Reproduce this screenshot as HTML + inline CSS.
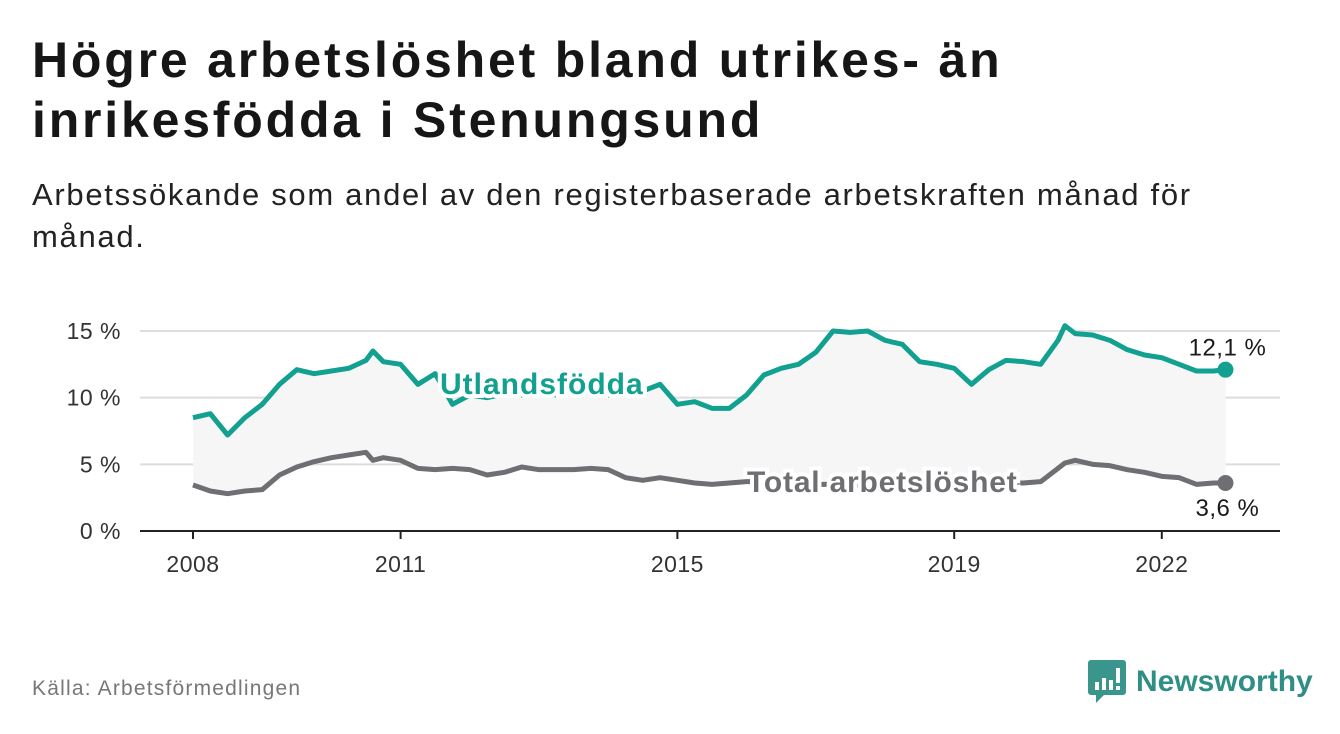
<!DOCTYPE html>
<html><head><meta charset="utf-8">
<style>
body{margin:0;width:1340px;height:734px;background:#fff;font-family:"Liberation Sans",sans-serif;overflow:hidden;position:relative;color:#1a1a1a}
h1{position:absolute;left:32px;top:30px;margin:0;font-size:50px;line-height:60px;letter-spacing:2.8px;font-weight:bold;color:#161616}
.sub{position:absolute;left:32px;top:174px;font-size:31px;line-height:42px;letter-spacing:1.7px;color:#222}
.src{position:absolute;left:32px;top:677px;font-size:21px;letter-spacing:1.2px;color:#777}
.logo{position:absolute;left:1088px;top:660px;display:flex;align-items:center}
.logo span{font-size:30px;font-weight:bold;color:#2f8f87;margin-left:10px}
#chart{position:absolute;left:0;top:0}
</style></head><body>
<h1>Högre arbetslöshet bland utrikes- än<br>inrikesfödda i Stenungsund</h1>
<div class="sub">Arbetssökande som andel av den registerbaserade arbetskraften månad för<br>månad.</div>
<div class="src">Källa: Arbetsförmedlingen</div>
<div class="logo">
<svg width="38" height="44" viewBox="0 0 38 44"><path d="M3 0H35a3 3 0 0 1 3 3V32a3 3 0 0 1-3 3H16L8 43V35H3a3 3 0 0 1-3-3V3a3 3 0 0 1 3-3z" fill="#3a958d"/><rect x="7" y="22" width="4" height="8" fill="#fff"/><rect x="14" y="18" width="4" height="12" fill="#fff"/><rect x="21" y="20" width="4" height="10" fill="#fff"/><rect x="28" y="8" width="4" height="15" fill="#fff"/><rect x="28" y="26" width="4" height="4" fill="#fff"/></svg>
<span>Newsworthy</span></div>
<svg id="chart" width="1340" height="734"></svg>
<script>
const dates=[2008.0,2008.25,2008.5,2008.75,2009.0,2009.25,2009.5,2009.75,2010.0,2010.25,2010.5,2010.6,2010.75,2011.0,2011.25,2011.5,2011.75,2012.0,2012.25,2012.5,2012.75,2013.0,2013.25,2013.5,2013.75,2014.0,2014.25,2014.5,2014.75,2015.0,2015.25,2015.5,2015.75,2016.0,2016.25,2016.5,2016.75,2017.0,2017.25,2017.5,2017.75,2018.0,2018.25,2018.5,2018.75,2019.0,2019.25,2019.5,2019.75,2020.0,2020.25,2020.5,2020.6,2020.75,2021.0,2021.25,2021.5,2021.75,2022.0,2022.25,2022.5,2022.75,2022.92];
const utlandsfodda=[8.5,8.8,7.2,8.5,9.5,11,12.1,11.8,12,12.2,12.8,13.5,12.7,12.5,11,11.8,9.5,10.2,10,10.3,10.2,10.4,10.2,10.5,10.4,10.2,10.4,10.5,11,9.5,9.7,9.2,9.2,10.2,11.7,12.2,12.5,13.4,15,14.9,15,14.3,14,12.7,12.5,12.2,11,12.1,12.8,12.7,12.5,14.3,15.4,14.8,14.7,14.3,13.6,13.2,13,12.5,12,12,12.1];
const total=[3.45,3.0,2.8,3.0,3.1,4.2,4.8,5.2,5.5,5.7,5.9,5.3,5.5,5.3,4.7,4.6,4.7,4.6,4.2,4.4,4.8,4.6,4.6,4.6,4.7,4.6,4.0,3.8,4.0,3.8,3.6,3.5,3.6,3.7,3.7,3.6,3.6,3.5,3.5,3.5,3.4,3.4,3.5,3.5,3.4,3.5,3.5,3.6,3.6,3.6,3.7,4.7,5.1,5.3,5.0,4.9,4.6,4.4,4.1,4.0,3.5,3.6,3.6];
const yTicks=[0,5,10,15];
const xTicks=[2008,2011,2015,2019,2022];
const NS="http://www.w3.org/2000/svg";
const svgEl=document.getElementById('chart');
const X=t=>193+(t-2008)*69.2;
const Y=v=>531-v*13.333;
function mk(tag,attrs){const e=document.createElementNS(NS,tag);for(const k in attrs)e.setAttribute(k,attrs[k]);svgEl.appendChild(e);return e;}
yTicks.forEach(v=>{
 const g=mk('line',{x1:140,x2:1280,y1:Y(v),y2:Y(v),stroke:v===0?'#222':'#ddd','stroke-width':2});
 
 
 const t=mk('text',{x:121,y:Y(v)+8,'text-anchor':'end','font-size':23,'letter-spacing':0.5,fill:'#333','font-family':'Liberation Sans, sans-serif'});
 t.textContent=v+' %';
 
 
});
xTicks.forEach(y=>{
 const l=mk('line',{x1:X(y),x2:X(y),y1:531,y2:539,stroke:'#222','stroke-width':2});
 
 
 const t=mk('text',{x:X(y),y:572,'text-anchor':'middle','font-size':23,'letter-spacing':0.5,fill:'#333','font-family':'Liberation Sans, sans-serif'});
 t.textContent=y;
 
 
});
const upperPts=dates.map((d,i)=>X(d)+','+Y(utlandsfodda[i]));
const lowerPts=dates.map((d,i)=>X(d)+','+Y(total[i])).reverse();
const area=mk('polygon',{points:upperPts.concat(lowerPts).join(' '),fill:'#f6f6f7'});


function drawLine(vals,color,name){
 const p=mk('polyline',{points:dates.map((d,i)=>X(d)+','+Y(vals[i])).join(' '),fill:'none',stroke:color,'stroke-width':5,'stroke-linejoin':'round'});
 
 
 const n=vals.length-1;
 const c=mk('circle',{cx:X(dates[n]),cy:Y(vals[n]),r:8,fill:color});
 
 
}
drawLine(utlandsfodda,'#12a091','utlandsfodda-line');
drawLine(total,'#6f6e73','total-line');
function lab(x,y,txt,color,name,size,bold,anchor,ls){
 const t=mk('text',{x:x,y:y,'font-size':size,'font-weight':bold?'bold':'normal','letter-spacing':ls||0,fill:color,'text-anchor':anchor||'start',stroke:bold?'#fff':'none','stroke-width':bold?8:0,'paint-order':'stroke','font-family':'Liberation Sans, sans-serif'});
 t.textContent=txt;
 
 
}
lab(440,394,'Utlandsfödda','#12a091','utlandsfodda-label',30,true,'start',1);
lab(747,492,'Total arbetslöshet','#6f6e73','total-label',30,true,'start',0.8);
const last=dates.length-1;
lab(X(dates[last])+2,Y(utlandsfodda[last])-14,'12,1 %','#1a1a1a','utlandsfodda-end-value',24,false,'middle',0.5);
lab(X(dates[last])+2,Y(total[last])+33,'3,6 %','#1a1a1a','total-end-value',24,false,'middle',0.5);
</script>
</body></html>
